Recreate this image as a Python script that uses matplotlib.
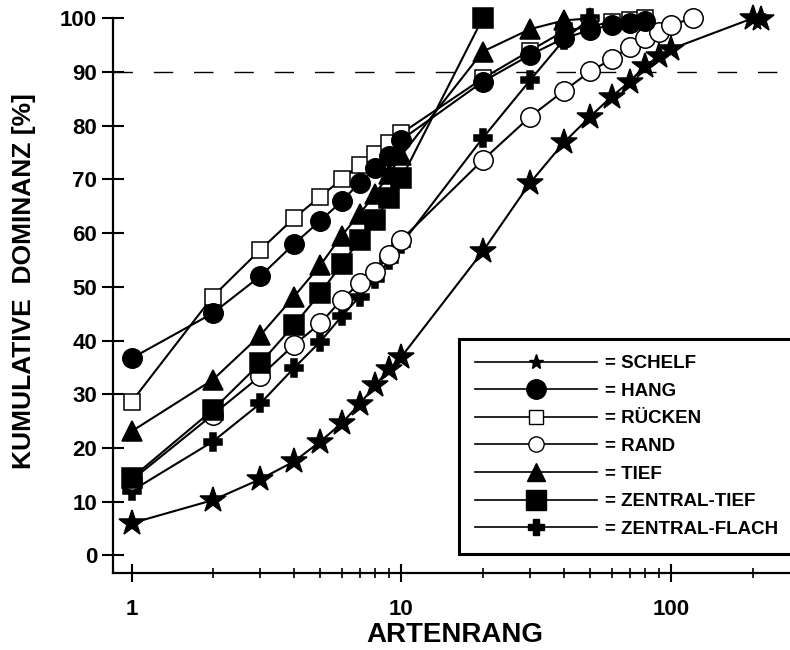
import matplotlib
matplotlib.use('Agg')
import matplotlib.pyplot as plt
from matplotlib.lines import Line2D
from matplotlib.ticker import FixedLocator, NullFormatter

plt.rcParams['font.family'] = ['Liberation Sans', 'DejaVu Sans']
plt.rcParams['font.weight'] = 'bold'

# ---------------- data ----------------
schelf_x = [1, 2, 3, 4, 5, 6, 7, 8, 9, 10, 20, 30, 40, 50, 60, 70, 80, 90, 100, 200, 215]
schelf_y = [6.0, 10.3, 14.2, 17.5, 21.2, 24.6, 28.2, 31.7, 34.7, 37.0, 56.6, 69.4, 76.9, 81.7,
            85.4, 88.2, 91.2, 92.9, 94.3, 100.0, 99.8]

hang_x = [1, 2, 3, 4, 5, 6, 7, 8, 9, 10, 20, 30, 40, 50, 60, 70, 80]
hang_y = [36.7, 45.1, 52.0, 58.0, 62.3, 65.9, 69.4, 72.1, 74.3, 77.4, 88.2, 93.2, 96.3, 97.8,
          98.8, 99.2, 99.5]

ruecken_x = [1, 2, 3, 4, 5, 6, 7, 8, 9, 10, 20, 30, 40, 50, 60, 70, 80]
ruecken_y = [28.6, 48.2, 56.9, 62.8, 66.8, 70.0, 72.7, 74.7, 76.8, 78.6, 88.8, 94.0, 97.6, 98.5,
             99.3, 99.6, 100.0]

rand_x = [1, 2, 3, 4, 5, 6, 7, 8, 9, 10, 20, 30, 40, 50, 60, 70, 80, 90, 100, 120]
rand_y = [14.0, 26.2, 33.4, 39.2, 43.2, 47.6, 50.7, 52.8, 56.0, 58.8, 73.6, 81.7, 86.5, 90.1,
          92.4, 94.7, 96.4, 97.5, 98.8, 100.0]

tief_x = [1, 2, 3, 4, 5, 6, 7, 8, 9, 10, 20, 30, 40, 50]
tief_y = [23.1, 32.7, 41.0, 48.2, 54.0, 59.5, 63.6, 67.3, 71.0, 74.5, 93.8, 98.0, 99.6, 100.0]

ztief_x = [1, 2, 3, 4, 5, 6, 7, 8, 9, 10, 20]
ztief_y = [14.4, 27.1, 35.8, 42.9, 48.8, 54.2, 58.7, 62.5, 66.5, 70.2, 100.0]

zflach_x = [1, 2, 3, 4, 5, 6, 7, 8, 9, 10, 20, 30, 40, 50]
zflach_y = [12.0, 21.2, 28.3, 34.9, 39.8, 44.5, 48.2, 51.5, 55.0, 58.0, 77.7, 88.5, 96.0, 100.0]

legend_labels = ['= SCHELF', '= HANG', '= RÜCKEN', '= RAND', '= TIEF', '= ZENTRAL-TIEF',
                 '= ZENTRAL-FLACH']
y_ticks = [0, 10, 20, 30, 40, 50, 60, 70, 80, 90, 100]
x_ticks = [1, 10, 100]
x_ticklabels = ['1', '10', '100']
x_minor = [2, 3, 4, 5, 6, 7, 8, 9, 20, 30, 40, 50, 60, 70, 80, 90, 200]
threshold = 90

# ---------------- figure ----------------
fig = plt.figure(figsize=(7.9, 6.5), dpi=100)
ax = fig.add_axes([113 / 790, 1 - 573 / 650, 677 / 790, (573 - 18.3) / 650])
ax.set_xscale('log')
ax.set_xlim(0.854, 275)
ax.set_ylim(-3.26, 100)

ax.axhline(threshold, color='k', lw=1.0, dashes=(14, 15), zorder=1)

styles = [
    # x, y, marker, ms, facecolor, zorder
    (zflach_x, zflach_y, 'P', 13, 'k', 3),
    (rand_x, rand_y, 'o', 14, 'white', 4),
    (ruecken_x, ruecken_y, 's', 12, 'white', 5),
    (hang_x, hang_y, 'o', 14, 'k', 6),
    (tief_x, tief_y, '^', 14, 'k', 7),
    (ztief_x, ztief_y, 's', 14, 'k', 8),
    (schelf_x, schelf_y, '*', 19, 'k', 9),
]
for x, y, m, ms, fc, z in styles:
    ax.plot(x, y, color='k', lw=1.5, marker=m, ms=ms, mfc=fc, mec='k', mew=1.1,
            clip_on=False, zorder=z)

for s in ['top', 'right']:
    ax.spines[s].set_visible(False)
for s in ['left', 'bottom']:
    ax.spines[s].set_linewidth(1.6)

ax.set_yticks(y_ticks)
ax.tick_params(axis='y', which='major', direction='inout', length=16, width=1.5, pad=3.5,
               labelsize=16)
ax.set_xticks(x_ticks)
ax.set_xticklabels(x_ticklabels)
ax.xaxis.set_minor_locator(FixedLocator(x_minor))
ax.xaxis.set_minor_formatter(NullFormatter())
ax.tick_params(axis='x', which='major', direction='inout', length=13, width=1.5, pad=12,
               labelsize=16)
ax.tick_params(axis='x', which='minor', direction='inout', length=6.5, width=1.2)

ax.set_ylabel('KUMULATIVE  DOMINANZ [%]', fontsize=19, fontweight='bold')
ax.yaxis.set_label_coords(-0.113, 0.527)
ax.set_xlabel('ARTENRANG', fontsize=20, fontweight='bold')
ax.xaxis.set_label_coords(0.505, -0.089)

handles = [
    Line2D([], [], color='k', lw=1.2, marker='*', ms=11, mfc='k', mec='k'),
    Line2D([], [], color='k', lw=1.2, marker='o', ms=14, mfc='k', mec='k'),
    Line2D([], [], color='k', lw=1.2, marker='s', ms=9.5, mfc='white', mec='k', mew=1.0),
    Line2D([], [], color='k', lw=1.2, marker='o', ms=11, mfc='white', mec='k', mew=1.0),
    Line2D([], [], color='k', lw=1.2, marker='^', ms=13, mfc='k', mec='k'),
    Line2D([], [], color='k', lw=1.2, marker='s', ms=14, mfc='k', mec='k'),
    Line2D([], [], color='k', lw=1.2, marker='P', ms=11, mfc='k', mec='k'),
]
leg = ax.legend(handles, legend_labels, loc='upper left',
                bbox_to_anchor=(459 / 790, 1 - 339 / 650), bbox_transform=fig.transFigure,
                frameon=True, fancybox=False, edgecolor='k', framealpha=1,
                prop={'size': 13.5, 'weight': 'bold'}, handlelength=6.5, handletextpad=0.45,
                labelspacing=0.56, borderpad=0.85, borderaxespad=0)
leg.get_frame().set_linewidth(2.2)
leg.set_zorder(20)

fig.savefig('out.png', dpi=100)
